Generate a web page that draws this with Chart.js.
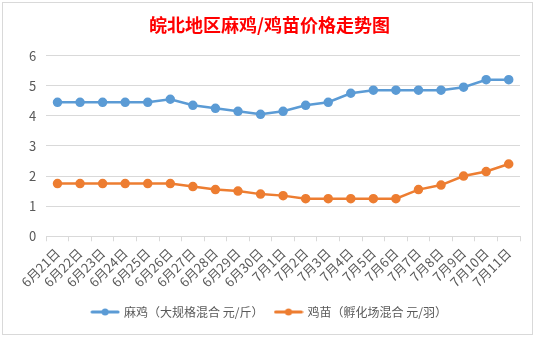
<!DOCTYPE html>
<html lang="zh">
<head>
    <meta charset="UTF-8">
    <title>皖北地区麻鸡/鸡苗价格走势图</title>
    <script src="https://cdn.jsdelivr.net/npm/chart.js"></script>
    <style>
        html, body { margin: 0; padding: 0; background: #fff; }
        #frame {
            position: absolute;
            left: 2px; top: 2px;
            width: 529px; height: 331px;
            border: 1px solid #d9d9d9;
        }
        #chart { display: block; }
    </style>
</head>
<body>
    <div id="frame"><canvas id="chart" width="529" height="331"></canvas></div>

    <script>
        const dates = ['6月21日', '6月22日', '6月23日', '6月24日', '6月25日', '6月26日', '6月27日',
            '6月28日', '6月29日', '6月30日', '7月1日', '7月2日', '7月3日', '7月4日', '7月5日',
            '7月6日', '7月7日', '7月8日', '7月9日', '7月10日', '7月11日'];
        const majiPrice = [4.45, 4.45, 4.45, 4.45, 4.45, 4.55, 4.35, 4.25, 4.15, 4.05, 4.15,
            4.35, 4.45, 4.75, 4.85, 4.85, 4.85, 4.85, 4.95, 5.2, 5.2];
        const jimiaoPrice = [1.75, 1.75, 1.75, 1.75, 1.75, 1.75, 1.65, 1.55, 1.5, 1.4, 1.35,
            1.25, 1.25, 1.25, 1.25, 1.25, 1.55, 1.7, 2.0, 2.15, 2.4];
        const yTicks = [0, 1, 2, 3, 4, 5, 6];

        const blue = '#5b9bd5';
        const orange = '#ed7d31';
        const textGray = '#595959';
        const gridGray = '#d9d9d9';
        const cjk = '"Noto Sans CJK SC", "Noto Sans", sans-serif';

        // legend marker: short line with a dot in the middle
        function legendMark(color) {
            const c = document.createElement('canvas');
            c.width = 30; c.height = 10;
            const g = c.getContext('2d');
            g.strokeStyle = color;
            g.lineWidth = 3;
            g.lineCap = 'round';
            g.beginPath(); g.moveTo(2, 5); g.lineTo(28, 5); g.stroke();
            g.fillStyle = color;
            g.beginPath(); g.arc(15, 5, 3.5, 0, Math.PI * 2); g.fill();
            return c;
        }

        new Chart(document.getElementById('chart'), {
            type: 'line',
            data: {
                labels: dates,
                datasets: [{
                    label: '麻鸡（大规格混合 元/斤）',
                    data: majiPrice,
                    borderColor: blue,
                    backgroundColor: blue,
                    borderWidth: 2.5,
                    pointRadius: 3.5,
                    pointStyle: 'circle',
                    tension: 0
                }, {
                    label: '鸡苗（孵化场混合 元/羽）',
                    data: jimiaoPrice,
                    borderColor: orange,
                    backgroundColor: orange,
                    borderWidth: 2.5,
                    pointRadius: 3.5,
                    pointStyle: 'circle',
                    tension: 0
                }]
            },
            options: {
                responsive: false,
                animation: false,
                layout: { padding: { left: 16, right: 12, top: 6, bottom: 6 } },
                plugins: {
                    title: {
                        display: true,
                        text: '皖北地区麻鸡/鸡苗价格走势图',
                        color: '#ff0000',
                        font: { family: cjk, size: 18, weight: 'bold' },
                        padding: { top: 5, bottom: 20 }
                    },
                    legend: {
                        position: 'bottom',
                        labels: {
                            color: textGray,
                            font: { family: cjk, size: 12 },
                            usePointStyle: true,
                            pointStyleWidth: 26,
                            generateLabels: chart => chart.data.datasets.map((ds, i) => ({
                                text: ds.label,
                                fillStyle: ds.borderColor,
                                strokeStyle: ds.borderColor,
                                pointStyle: legendMark(ds.borderColor),
                                hidden: false,
                                datasetIndex: i,
                                fontColor: textGray
                            })),
                            padding: 12
                        }
                    },
                    tooltip: { enabled: false }
                },
                scales: {
                    x: {
                        offset: true,
                        grid: {
                            offset: true,
                            drawOnChartArea: false,
                            drawTicks: true,
                            tickLength: 5,
                            color: gridGray
                        },
                        border: { color: gridGray },
                        ticks: {
                            color: textGray,
                            font: { family: cjk, size: 13 },
                            minRotation: 45,
                            maxRotation: 45,
                            autoSkip: false,
                            padding: 4
                        }
                    },
                    y: {
                        min: yTicks[0],
                        max: yTicks[yTicks.length - 1],
                        afterBuildTicks: axis => { axis.ticks = yTicks.map(v => ({ value: v })); },
                        grid: { color: gridGray, drawTicks: false },
                        border: { display: false },
                        ticks: {
                            color: textGray,
                            font: { family: cjk, size: 13 },
                            padding: 10
                        }
                    }
                }
            }
        });
    </script>
</body>
</html>
